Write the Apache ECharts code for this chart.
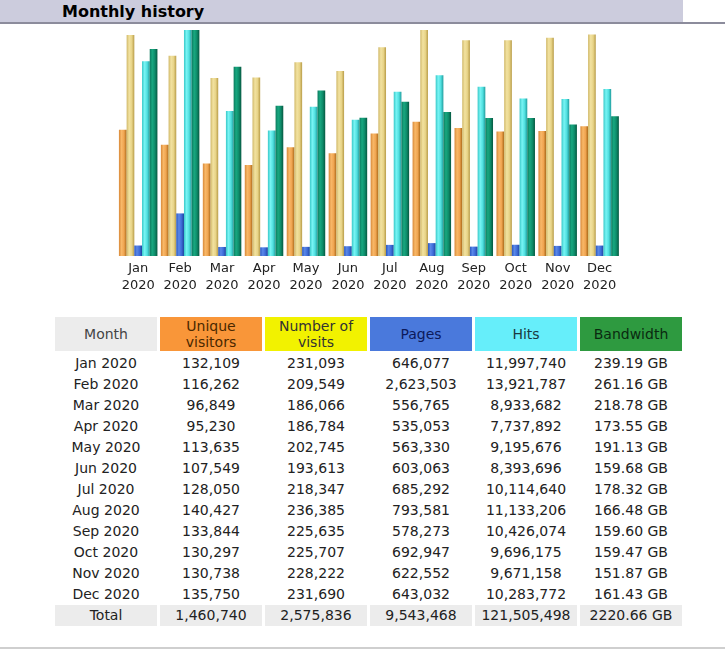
<!DOCTYPE html>
<html>
<head>
<meta charset="utf-8">
<script src="https://cdn.jsdelivr.net/npm/echarts@6/dist/echarts.min.js"></script>
<style>
  html, body { margin: 0; padding: 0; background: #fff; width: 725px; height: 652px; overflow: hidden; font-family: 'DejaVu Sans', Verdana, sans-serif; }
  #titlebar { position: absolute; left: 0; top: 0; width: 683px; height: 22px; background: #ccccdd; }
  #titleline { position: absolute; left: 0; top: 22px; width: 725px; height: 2px; background: #8c8c9c; }
  #title { position: absolute; left: 62px; top: 1px; font-size: 16px; font-weight: bold; color: #000; line-height: 22px; }
  #chart { position: absolute; left: 0; top: 0; width: 725px; height: 300px; }
  #tbl { position: absolute; left: 52px; top: 317px; border-collapse: separate; border-spacing: 3px 0; font-size: 14px; color: #222; }
  #tbl td, #tbl th { width: 102px; padding: 0; text-align: center; }
  #tbl th { font-weight: normal; height: 34px; line-height: 16px; border-bottom: 2px solid #fff; }
  #tbl td { height: 21px; line-height: 21px; }
  #tbl tr.total td { background: #ececec; }
  #bottomline { position: absolute; left: 0; top: 647px; width: 725px; height: 2px; background: #cfcfcf; }
</style>
</head>
<body>
<div id="chart"></div>
<div id="titlebar"></div>
<div id="titleline"></div>
<div id="title">Monthly history</div>
<table id="tbl"></table>
<div id="bottomline"></div>
<script>
var months = ['Jan','Feb','Mar','Apr','May','Jun','Jul','Aug','Sep','Oct','Nov','Dec'];
var year = '2020';
var uniqueVisitors = [132109,116262,96849,95230,113635,107549,128050,140427,133844,130297,130738,135750];
var visits = [231093,209549,186066,186784,202745,193613,218347,236385,225635,225707,228222,231690];
var pages = [646077,2623503,556765,535053,563330,603063,685292,793581,578273,692947,622552,643032];
var hits = [11997740,13921787,8933682,7737892,9195676,8393696,10114640,11133206,10426074,9696175,9671158,10283772];
var bandwidthGB = [239.19,261.16,218.78,173.55,191.13,159.68,178.32,166.48,159.60,159.47,151.87,161.43];
var totals = ['1,460,740','2,575,836','9,543,468','121,505,498','2220.66 GB'];
var headers = ['Month','Unique<br>visitors','Number of<br>visits','Pages','Hits','Bandwidth'];
var headerBg = ['#ececec','#f99639','#f2f200','#4a79dc','#66eefa','#2e9a40'];
var headerFg = ['#444','#4a2800','#333','#0c1a5a','#1a3a40','#0a2a10'];

function fmt(n){ return n.toLocaleString('en-US'); }

function grad(c){
  return { type:'linear', x:0, y:0, x2:1, y2:0, colorStops: c.map(function(col,i){ return {offset: i/(c.length-1), color: col}; }) };
}

var chart = echarts.init(document.getElementById('chart'));
var barW = 7.7;
chart.setOption({
  animation: false,
  grid: { left: 117.2, width: 503.4, top: 30, height: 226 },
  xAxis: {
    type: 'category',
    data: months.map(function(m){ return m + '\n' + year; }),
    axisLine: { show: false }, axisTick: { show: false },
    axisLabel: { color: '#222', fontSize: 13, fontFamily: 'DejaVu Sans', lineHeight: 17, margin: 4, interval: 0 }
  },
  yAxis: [
    { type: 'value', min: 0, max: 'dataMax', show: false },
    { type: 'value', min: 0, max: 'dataMax', show: false },
    { type: 'value', min: 0, max: 'dataMax', show: false }
  ],
  series: [
    { type: 'bar', yAxisIndex: 0, data: uniqueVisitors, barWidth: barW, barGap: '0%',
      itemStyle: { color: grad(['#d88838','#f8b868','#f0a450','#a86818']) } },
    { type: 'bar', yAxisIndex: 0, data: visits, barWidth: barW, barGap: '0%',
      itemStyle: { color: grad(['#d0b868','#f2e2a0','#e8d488','#b89c48']) } },
    { type: 'bar', yAxisIndex: 1, data: pages, barWidth: barW, barGap: '0%',
      itemStyle: { color: grad(['#2a58c0','#5a88e8','#3e6cd8','#1e44a0']) } },
    { type: 'bar', yAxisIndex: 1, data: hits, barWidth: barW, barGap: '0%',
      itemStyle: { color: grad(['#38c8c8','#78f4f4','#50e0e0','#209c9c']) } },
    { type: 'bar', yAxisIndex: 2, data: bandwidthGB, barWidth: barW, barGap: '0%',
      itemStyle: { color: grad(['#0c7a5e','#18a880','#0e8c6a','#065840']) } }
  ]
});

var tbl = document.getElementById('tbl');
var html = '<tr>';
headers.forEach(function(h,i){ html += '<th style="background:'+headerBg[i]+';color:'+headerFg[i]+'">'+h+'</th>'; });
html += '</tr>';
months.forEach(function(m,i){
  html += '<tr><td>'+m+' '+year+'</td><td>'+fmt(uniqueVisitors[i])+'</td><td>'+fmt(visits[i])+'</td><td>'+fmt(pages[i])+'</td><td>'+fmt(hits[i])+'</td><td>'+bandwidthGB[i].toFixed(2)+' GB</td></tr>';
});
html += '<tr class="total"><td>Total</td>';
totals.forEach(function(t){ html += '<td>'+t+'</td>'; });
html += '</tr>';
tbl.innerHTML = html;
</script>
</body>
</html>
